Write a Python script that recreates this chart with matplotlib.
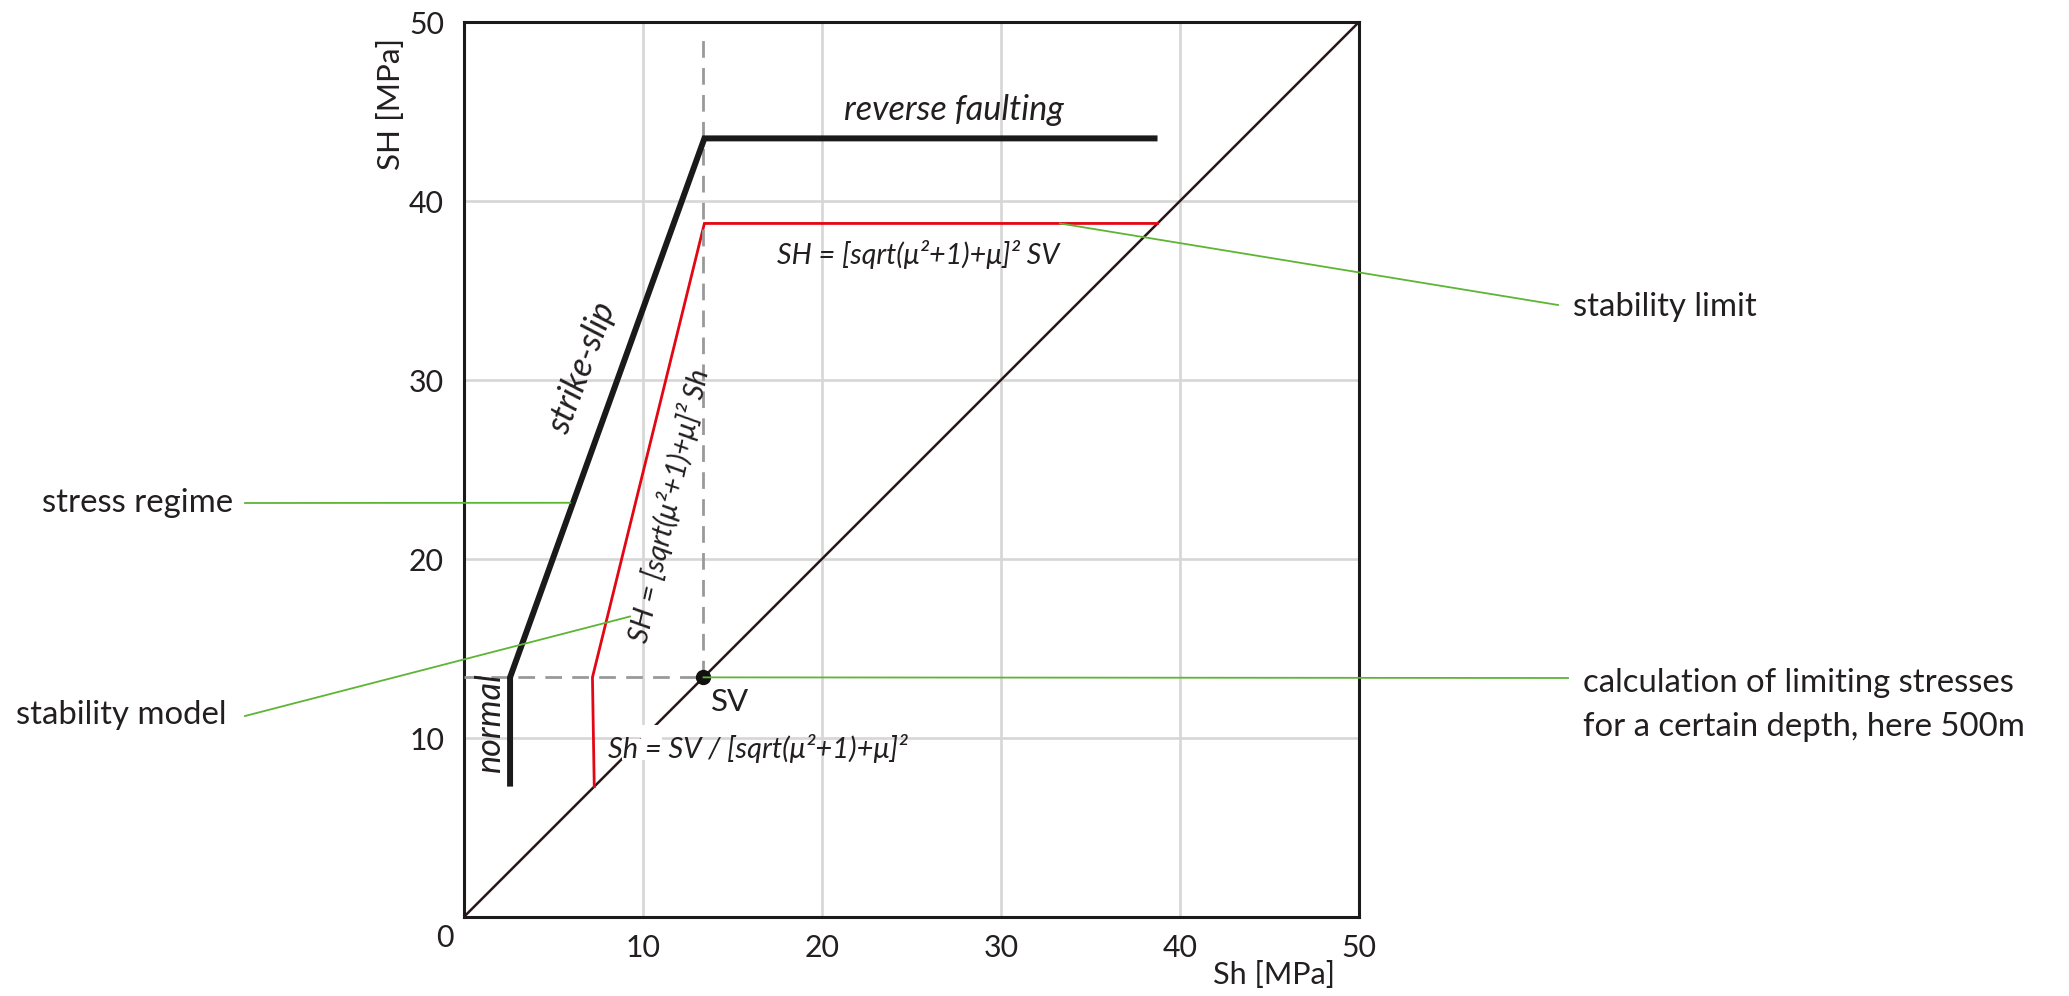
import matplotlib
matplotlib.use("Agg")
import matplotlib.pyplot as plt
from matplotlib.patches import Polygon

W, H = 2069, 996
plt.rcParams['font.family'] = ['Lato', 'DejaVu Sans']

# ---- data ----
sv = 13.4
regime_x = [2.6, 2.6, 13.45, 38.75]
regime_y = [7.3, 13.4, 43.5, 43.5]
model_x = [7.3, 7.2, 13.45, 38.75]
model_y = [7.3, 13.4, 38.75, 38.75]
diag_x = [0, 50]
diag_y = [0, 50]
vdash_top = 49.5
ticks = [10, 20, 30, 40, 50]

TXT = '#231f20'

fig = plt.figure(figsize=(W / 100, H / 100), dpi=100)
ax = fig.add_axes([463.5 / W, (H - 917.3) / H, 895.5 / W, 895.3 / H])
ax.set_xlim(0, 50)
ax.set_ylim(0, 50)
renderer = fig.canvas.get_renderer()


def fit(t, target):
    for _ in range(3):
        rot = t.get_rotation()
        t.set_rotation(0)
        w = t.get_window_extent(renderer).width
        t.set_rotation(rot)
        t.set_fontsize(t.get_fontsize() * target / w)
    return t.get_fontsize()


def ftext(x, y, s, **kw):
    return fig.text(x / W, 1 - y / H, s, **kw)


# tick label size fitted to "50" width
tmp = ftext(0, 0, '50', fontsize=20)
tick_fs = fit(tmp, 35)
tmp.remove()

for t in [10, 20, 30, 40]:
    ax.axvline(t, color='#d6d6d6', lw=1.9, zorder=0)
    ax.axhline(t, color='#d6d6d6', lw=1.9, zorder=0)

ax.plot(diag_x, diag_y, color='#2a1616', lw=1.8, zorder=2)
ax.plot(model_x, model_y, color='#e30613', lw=2.0, zorder=3, solid_joinstyle='miter')
ax.plot(regime_x, regime_y, color='#1a1a1a', lw=4.3, zorder=4,
        solid_capstyle='butt', solid_joinstyle='miter')
ax.plot([0, sv], [sv, sv], color='#999999', lw=2.0, dashes=(6, 3.7), zorder=3)
ax.plot([sv, sv], [sv, vdash_top], color='#999999', lw=2.0, dashes=(6, 3.7), zorder=3)
ax.plot([sv], [sv], 'o', color='#111111', ms=10, zorder=6)

# white knock-out behind lower formula
ax.add_patch(Polygon([(8.85, 8.8), (11.1, 8.8), (11.1, 10.75), (9.9, 10.75),
                      (9.9, 9.95), (8.85, 9.95)], closed=True,
                     facecolor='white', edgecolor='none', zorder=5))

for s in ax.spines.values():
    s.set_linewidth(2.2)
    s.set_color('#1a1a1a')
ax.set_xticks(ticks)
ax.set_yticks(ticks)
ax.tick_params(length=0, labelsize=tick_fs, colors=TXT, pad=14)
ax.tick_params(axis='x', pad=12)
ax.set_xticklabels([str(t) for t in ticks])
ax.set_yticklabels([str(t) for t in ticks])

ftext(445, 938, '0', fontsize=tick_fs, ha='center', va='center', color=TXT)
t = ftext(391, 104, 'SH [MPa]', fontsize=20, rotation=90, ha='center', va='center', color=TXT)
fit(t, 132)
t = ftext(1274, 975, 'Sh [MPa]', fontsize=20, ha='center', va='center', color=TXT)
fit(t, 122)

it = dict(style='italic', color=TXT, zorder=7)
t = ax.text(27.4, 45.1, 'reverse faulting', fontsize=20, ha='center', va='center', **it)
lab_fs = fit(t, 220)
ax.text(6.6, 30.7, 'strike-slip', fontsize=lab_fs, rotation=69.5, ha='center', va='center',
        rotation_mode='anchor', **it)
ax.text(1.5, 10.9, 'normal', fontsize=lab_fs, rotation=90, ha='center', va='center', **it)
t = ax.text(17.5, 37.0, 'SH = [sqrt(μ²+1)+μ]² SV', fontsize=17, ha='left', va='center', **it)
f_fs = fit(t, 282)
ax.text(11.47, 23.0, 'SH = [sqrt(μ²+1)+μ]² Sh', fontsize=f_fs, rotation=77.2,
        ha='center', va='center', rotation_mode='anchor', **it)
t = ax.text(8.08, 9.45, 'Sh = SV / [sqrt(μ²+1)+μ]²', fontsize=f_fs, ha='left', va='center', **it)
fit(t, 300)
ax.text(14.9, 12.0, 'SV', fontsize=22.5, ha='center', va='center', color=TXT, zorder=7)

# annotations
green = '#5db534'


def leader(p_fig, p_data):
    xd, yd = ax.transData.transform(p_data)
    x0, y0 = p_fig[0], H - p_fig[1]
    line = plt.Line2D([x0 / W, xd / W], [y0 / H, yd / H], transform=fig.transFigure,
                      color=green, lw=1.3, zorder=8)
    fig.add_artist(line)


ann = dict(fontsize=20, color=TXT, va='center', ha='left')
t = ftext(1583, 683, 'calculation of limiting stresses', **ann)
ann_fs = fit(t, 430)
ann['fontsize'] = ann_fs
ftext(1583, 727, 'for a certain depth, here 500m', **ann)
ftext(42, 503, 'stress regime', **ann)
ftext(16, 715, 'stability model', **ann)
ftext(1573, 307, 'stability limit', **ann)

leader((245, 503), (5.96, 23.15))
leader((245, 716), (9.3, 16.8))
leader((1558, 305), (33.3, 38.75))
leader((1568, 678), (sv, sv))

fig.savefig('out.png', dpi=100)
